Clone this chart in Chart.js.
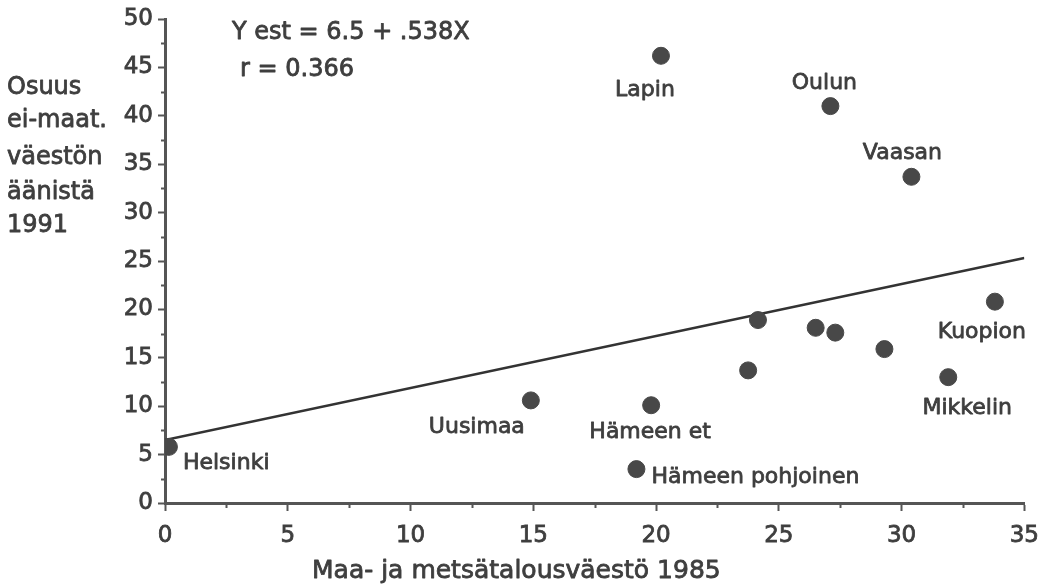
<!DOCTYPE html>
<html>
<head>
<meta charset="utf-8">
<script src="https://cdn.jsdelivr.net/npm/chart.js@4/dist/chart.umd.min.js"></script>
<style>
    html, body { margin: 0; padding: 0; background: #fff; }
    #wrap { width: 1050px; height: 588px; position: relative; }
</style>
</head>
<body>
<div id="wrap"><canvas id="chart"></canvas></div>
<script>
// Regions (läänit)
const regions = ['Helsinki', 'Uusimaa', 'Hämeen et', 'Hämeen pohjoinen', '', '', '', '', '', 'Mikkelin', 'Kuopion', 'Lapin', 'Oulun', 'Vaasan'];
const farmShare = [0.16, 14.9, 19.8, 19.2, 23.75, 24.15, 26.5, 27.3, 29.3, 31.9, 33.8, 20.2, 27.1, 30.4];
const voteShare = [5.8, 10.6, 10.1, 3.5, 13.7, 18.9, 18.1, 17.6, 15.9, 13.0, 20.8, 46.2, 41.0, 33.7];

// fitted line Y est = 6.5 + .538X, end points
const fitX = [0, 35];
const fitY = [6.5, 25.3];

const xTicks = [0, 5, 10, 15, 20, 25, 30, 35];
const yTicks = [0, 5, 10, 15, 20, 25, 30, 35, 40, 45, 50];

const yTitle = ['Osuus', 'ei-maat.', 'väestön', 'äänistä', '1991'];
const xTitle = 'Maa- ja metsätalousväestö 1985';
const equation = ['Y est = 6.5 + .538X', 'r = 0.366'];

const INK = '#3e3e3e';
const FONT = '"DejaVu Sans", sans-serif';

// label placement relative to the dot: [dx, dy, align]
const labelPos = {
    'Helsinki': [14, 16, 'left'],
    'Uusimaa': [-54, 27, 'center'],
    'Hämeen et': [-1, 27, 'center'],
    'Hämeen pohjoinen': [15, 8, 'left'],
    'Mikkelin': [19, 31, 'center'],
    'Kuopion': [-13, 31, 'center'],
    'Lapin': [-16, 34, 'center'],
    'Oulun': [-6, -23, 'center'],
    'Vaasan': [-9, -24, 'center']
};

function boldText(ctx, t, x, y) {
    ctx.strokeText(t, x, y);
    ctx.fillText(t, x, y);
}

const annotations = {
    id: 'annotations',
    afterDraw(chart) {
        const { ctx, scales: { x, y } } = chart;
        ctx.save();
        ctx.strokeStyle = '#555';
        ctx.lineWidth = 2;

        // minor ticks
        for (let v = 2.5; v < 50; v += 5) {
            const py = Math.round(y.getPixelForValue(v)) + 0.5;
            ctx.beginPath(); ctx.moveTo(x.left - 4, py); ctx.lineTo(x.left, py); ctx.stroke();
        }
        for (let v = 2.5; v < 35; v += 5) {
            const px = Math.round(x.getPixelForValue(v)) + 0.5;
            ctx.beginPath(); ctx.moveTo(px, y.bottom); ctx.lineTo(px, y.bottom + 5); ctx.stroke();
        }

        ctx.fillStyle = INK;
        ctx.strokeStyle = INK;
        ctx.lineWidth = 0.8;
        ctx.lineJoin = 'round';

        // point labels
        ctx.font = '22px ' + FONT;
        ctx.textBaseline = 'middle';
        regions.forEach((name, i) => {
            if (!name) return;
            const [dx, dy, align] = labelPos[name];
            ctx.textAlign = align;
            boldText(ctx, name, x.getPixelForValue(farmShare[i]) + dx, y.getPixelForValue(voteShare[i]) + dy);
        });

        // equation
        ctx.font = '24px ' + FONT;
        ctx.textAlign = 'left';
        boldText(ctx, equation[0], 232, 33);
        boldText(ctx, equation[1], 240, 70);

        // y title
        const rows = [88, 121, 158, 193, 226];
        yTitle.forEach((t, i) => boldText(ctx, t, 7, rows[i]));

        // x title
        ctx.font = '25px ' + FONT;
        boldText(ctx, xTitle, 312, 571);
        ctx.restore();
    }
};

const tickFont = { family: FONT, size: 23 };

new Chart(document.getElementById('chart'), {
    type: 'scatter',
    data: {
        datasets: [{
            data: farmShare.map((v, i) => ({ x: v, y: voteShare[i] })),
            backgroundColor: '#484848',
            borderColor: '#484848',
            pointRadius: 8.5,
            order: 1
        }, {
            data: fitX.map((v, i) => ({ x: v, y: fitY[i] })),
            showLine: true,
            borderColor: '#333',
            borderWidth: 2.5,
            pointRadius: 0,
            order: 2
        }]
    },
    options: {
        responsive: true,
        maintainAspectRatio: false,
        animation: false,
        layout: { padding: { top: 19, right: 23, bottom: 0, left: 0 } },
        plugins: { legend: { display: false }, tooltip: { enabled: false } },
        scales: {
            x: {
                type: 'linear', min: 0, max: 35,
                afterBuildTicks: s => { s.ticks = xTicks.map(v => ({ value: v })); },
                afterFit: s => { s.height = 85; },
                border: { display: true, color: '#555', width: 3 },
                grid: { drawOnChartArea: false, drawTicks: true, tickLength: 8, tickColor: '#555', tickWidth: 2 },
                ticks: { color: INK, font: tickFont, padding: 11, textStrokeColor: INK, textStrokeWidth: 0.8 }
            },
            y: {
                type: 'linear', min: 0, max: 50,
                afterBuildTicks: s => { s.ticks = yTicks.map(v => ({ value: v })); },
                afterFit: s => { s.width = 165; },
                border: { display: true, color: '#555', width: 3 },
                grid: { drawOnChartArea: false, drawTicks: true, tickLength: 7, tickColor: '#555', tickWidth: 2 },
                ticks: { color: INK, font: tickFont, padding: 5, textStrokeColor: INK, textStrokeWidth: 0.8 }
            }
        }
    },
    plugins: [annotations]
});
</script>
</body>
</html>
